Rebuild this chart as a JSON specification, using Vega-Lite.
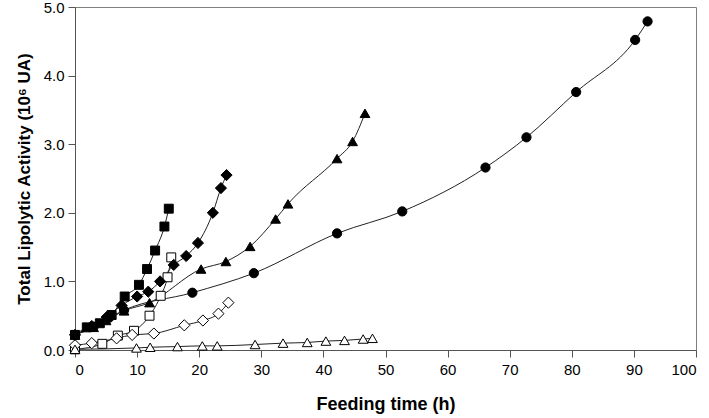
{
  "$schema": "https://vega.github.io/schema/vega-lite/v6.json",
  "width": 621,
  "height": 343,
  "autosize": {"type": "none"},
  "padding": {"left": 75, "top": 7, "right": 13, "bottom": 68},
  "background": "white",
  "config": {
    "view": {"stroke": "#808080", "strokeWidth": 1},
    "font": "Liberation Sans"
  },
  "data": {
    "values": [
      {"s": "A", "t": 0, "v": 0.22},
      {"s": "A", "t": 3, "v": 0.34},
      {"s": "A", "t": 5.5, "v": 0.47},
      {"s": "A", "t": 7.9, "v": 0.58},
      {"s": "A", "t": 18.9, "v": 0.835},
      {"s": "A", "t": 28.8, "v": 1.12},
      {"s": "A", "t": 42.2, "v": 1.70},
      {"s": "A", "t": 52.7, "v": 2.02},
      {"s": "A", "t": 66.1, "v": 2.66},
      {"s": "A", "t": 72.7, "v": 3.10},
      {"s": "A", "t": 80.7, "v": 3.76},
      {"s": "A", "t": 90.2, "v": 4.52},
      {"s": "A", "t": 92.2, "v": 4.79},

      {"s": "B", "t": 0, "v": 0.22},
      {"s": "B", "t": 3, "v": 0.33},
      {"s": "B", "t": 5, "v": 0.43},
      {"s": "B", "t": 7.9, "v": 0.57},
      {"s": "B", "t": 12.0, "v": 0.69},
      {"s": "B", "t": 20.3, "v": 1.18},
      {"s": "B", "t": 24.3, "v": 1.29},
      {"s": "B", "t": 28.2, "v": 1.51},
      {"s": "B", "t": 32.3, "v": 1.91},
      {"s": "B", "t": 34.3, "v": 2.13},
      {"s": "B", "t": 42.2, "v": 2.79},
      {"s": "B", "t": 44.7, "v": 3.04},
      {"s": "B", "t": 46.7, "v": 3.45},

      {"s": "C", "t": 0, "v": 0.22},
      {"s": "C", "t": 2.7, "v": 0.35},
      {"s": "C", "t": 5.1, "v": 0.48},
      {"s": "C", "t": 7.5, "v": 0.65},
      {"s": "C", "t": 10.0, "v": 0.78},
      {"s": "C", "t": 11.8, "v": 0.85},
      {"s": "C", "t": 13.7, "v": 1.0},
      {"s": "C", "t": 15.9, "v": 1.24},
      {"s": "C", "t": 17.9, "v": 1.37},
      {"s": "C", "t": 19.8, "v": 1.56},
      {"s": "C", "t": 22.2, "v": 2.0},
      {"s": "C", "t": 23.5, "v": 2.36},
      {"s": "C", "t": 24.4, "v": 2.55},

      {"s": "D", "t": 0, "v": 0.22},
      {"s": "D", "t": 1.9, "v": 0.33},
      {"s": "D", "t": 4.0, "v": 0.39},
      {"s": "D", "t": 5.9, "v": 0.51},
      {"s": "D", "t": 8.0, "v": 0.78},
      {"s": "D", "t": 10.3, "v": 0.95},
      {"s": "D", "t": 11.6, "v": 1.18},
      {"s": "D", "t": 12.9, "v": 1.45},
      {"s": "D", "t": 14.4, "v": 1.80},
      {"s": "D", "t": 15.1, "v": 2.06},

      {"s": "E", "t": 0, "v": 0.01},
      {"s": "E", "t": 4.4, "v": 0.09},
      {"s": "E", "t": 6.9, "v": 0.21},
      {"s": "E", "t": 9.5, "v": 0.28},
      {"s": "E", "t": 12.0, "v": 0.50},
      {"s": "E", "t": 13.8, "v": 0.79},
      {"s": "E", "t": 14.9, "v": 1.06},
      {"s": "E", "t": 15.5, "v": 1.35},

      {"s": "F", "t": 0, "v": 0.07},
      {"s": "F", "t": 2.7, "v": 0.10},
      {"s": "F", "t": 6.7, "v": 0.17},
      {"s": "F", "t": 9.2, "v": 0.22},
      {"s": "F", "t": 12.7, "v": 0.24},
      {"s": "F", "t": 17.6, "v": 0.36},
      {"s": "F", "t": 20.6, "v": 0.43},
      {"s": "F", "t": 23.1, "v": 0.53},
      {"s": "F", "t": 24.7, "v": 0.69},

      {"s": "G", "t": 0, "v": 0.01},
      {"s": "G", "t": 9.9, "v": 0.03},
      {"s": "G", "t": 12.1, "v": 0.04},
      {"s": "G", "t": 16.5, "v": 0.05},
      {"s": "G", "t": 20.5, "v": 0.06},
      {"s": "G", "t": 22.9, "v": 0.06},
      {"s": "G", "t": 29.0, "v": 0.08},
      {"s": "G", "t": 33.5, "v": 0.10},
      {"s": "G", "t": 37.4, "v": 0.11},
      {"s": "G", "t": 40.4, "v": 0.13},
      {"s": "G", "t": 43.4, "v": 0.14},
      {"s": "G", "t": 46.4, "v": 0.16},
      {"s": "G", "t": 47.9, "v": 0.17}
    ]
  },
  "encoding": {
    "x": {
      "field": "t", "type": "quantitative",
      "scale": {"domain": [0, 100], "nice": false, "zero": false},
      "axis": {
        "title": "Feeding time (h)",
        "values": [0, 10, 20, 30, 40, 50, 60, 70, 80, 90, 100],
        "grid": false,
        "domainColor": "#555", "tickColor": "#555",
        "tickSize": 7, "labelPadding": 5,
        "labelFontSize": 15, "labelColor": "#000",
        "titleFontSize": 18, "titleFontWeight": "bold", "titleColor": "#000",
        "titlePadding": 18
      }
    },
    "y": {
      "field": "v", "type": "quantitative",
      "scale": {"domain": [0, 5], "nice": false},
      "axis": {
        "title": "Total Lipolytic Activity (10⁶ UA)",
        "values": [0, 1, 2, 3, 4, 5],
        "format": ".1f",
        "grid": false,
        "domainColor": "#555", "tickColor": "#555",
        "tickSize": 7, "labelPadding": 4,
        "labelFontSize": 15, "labelColor": "#000",
        "titleFontSize": 17, "titleFontWeight": "bold", "titleColor": "#000",
        "titlePadding": 10
      }
    }
  },
  "resolve": {"scale": {"shape": "independent", "size": "independent"}},
  "layer": [
    {
      "mark": {"type": "line", "interpolate": "monotone", "color": "#222", "strokeWidth": 1},
      "encoding": {"detail": {"field": "s"}}
    },
    {
      "transform": [{"filter": "datum.s === 'E' || datum.s === 'F' || datum.s === 'G'"}],
      "mark": {"type": "point", "opacity": 1, "strokeWidth": 1, "stroke": "#000", "fill": "#fff"},
      "encoding": {
        "shape": {
          "field": "s", "type": "nominal",
          "scale": {"domain": ["E", "F", "G"], "range": ["square", "diamond", "triangle-up"]},
          "legend": null
        },
        "size": {
          "field": "s", "type": "nominal",
          "scale": {"type": "ordinal", "domain": ["E", "F", "G"], "range": [80, 125, 95]},
          "legend": null
        }
      }
    },
    {
      "transform": [{"filter": "datum.s === 'A' || datum.s === 'B' || datum.s === 'C' || datum.s === 'D'"}],
      "mark": {"type": "point", "opacity": 1, "strokeWidth": 1, "stroke": "#000", "fill": "#000", "filled": true},
      "encoding": {
        "shape": {
          "field": "s", "type": "nominal",
          "scale": {"domain": ["A", "B", "C", "D"], "range": ["circle", "triangle-up", "diamond", "square"]},
          "legend": null
        },
        "size": {
          "field": "s", "type": "nominal",
          "scale": {"type": "ordinal", "domain": ["A", "B", "C", "D"], "range": [85, 95, 125, 80]},
          "legend": null
        }
      }
    }
  ]
}
